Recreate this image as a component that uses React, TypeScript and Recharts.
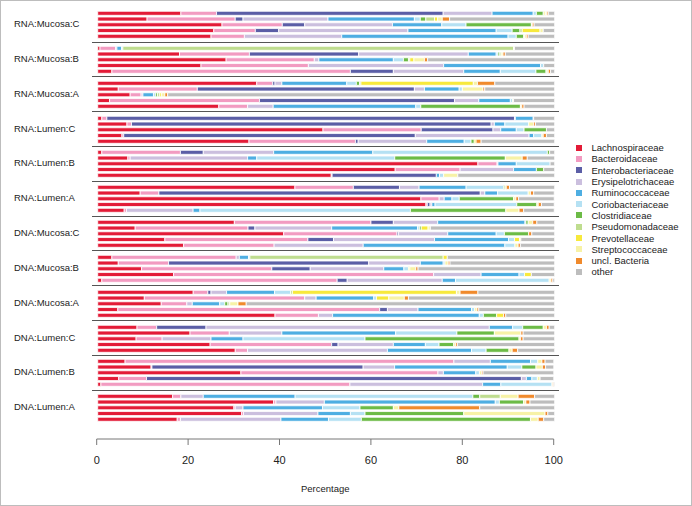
import { BarChart, Bar, XAxis, YAxis } from "recharts";

// family order = stacking order, left to right
const families = [
  "Lachnospiraceae",
  "Bacteroidaceae",
  "Enterobacteriaceae",
  "Erysipelotrichaceae",
  "Ruminococcaceae",
  "Coriobacteriaceae",
  "Clostridiaceae",
  "Pseudomonadaceae",
  "Prevotellaceae",
  "Streptococcaceae",
  "uncl. Bacteria",
  "other",
];

const colors = [
  "#e31b37",
  "#f29bc1",
  "#5b5ea6",
  "#cbbfde",
  "#4eaee2",
  "#b5e1f3",
  "#6cbb46",
  "#bfdd8f",
  "#f7e93c",
  "#f7f2a6",
  "#f08a2c",
  "#bdbdbd",
];

const panelLabels = [
  "RNA:Mucosa:C",
  "RNA:Mucosa:B",
  "RNA:Mucosa:A",
  "RNA:Lumen:C",
  "RNA:Lumen:B",
  "RNA:Lumen:A",
  "DNA:Mucosa:C",
  "DNA:Mucosa:B",
  "DNA:Mucosa:A",
  "DNA:Lumen:C",
  "DNA:Lumen:B",
  "DNA:Lumen:A",
];

// each row: one sample, values in the family order above (percent)
const rnaMucosaC = [
  [18.2, 7.8, 49.6, 10.7, 9.0, 0.7, 1.5, 0.2, 0.3, 0.3, 0.3, 1.4],
  [10.8, 19.3, 1.7, 18.6, 18.9, 1.3, 1.2, 1.9, 0.7, 1.0, 1.6, 23.0],
  [27.2, 13.2, 4.9, 19.2, 10.8, 5.3, 14.3, 0, 0, 0.2, 0.4, 4.5],
  [25.4, 9.1, 5.1, 28.3, 19.3, 3.5, 1.7, 0.5, 3.9, 0.7, 0, 2.5],
  [24.8, 7.3, 0, 21.3, 36.4, 1.8, 1.6, 0.2, 0, 0.4, 0.4, 5.8],
];
const rnaMucosaB = [
  [0.5, 3.4, 0, 0.3, 1.0, 0.3, 0, 85.5, 0, 0.2, 0, 8.8],
  [17.9, 15.3, 23.9, 24.0, 6.1, 0.4, 0.4, 0.3, 0, 0.4, 0.5, 10.8],
  [28.1, 19.3, 0, 1.0, 16.3, 2.2, 1.1, 0.3, 0.9, 2.3, 0.7, 27.8],
  [22.6, 23.5, 0, 29.6, 21.2, 0.7, 0, 0, 0, 0, 0, 2.4],
  [3.1, 52.2, 9.4, 15.4, 8.0, 7.8, 2.2, 0.2, 0, 0.3, 0.5, 0.9],
];
const rnaMucosaA = [
  [34.8, 3.5, 0.5, 1.5, 14.2, 2.1, 0.7, 0.3, 24.6, 0.9, 3.8, 13.1],
  [4.5, 17.3, 47.5, 2.2, 7.6, 0.7, 0, 0, 0, 4.5, 0.4, 15.3],
  [7.1, 2.4, 0, 0.4, 2.3, 0.5, 0.4, 0.5, 0.4, 0.7, 0.6, 84.7],
  [2.6, 32.8, 42.7, 5.3, 6.9, 0.5, 0, 0, 0, 0.2, 0, 9.0],
  [26.5, 6.3, 0, 5.6, 31.2, 1.1, 21.8, 0, 0, 0.3, 0.5, 6.7],
];
const rnaLumenC = [
  [0.9, 1.1, 89.2, 0.2, 3.9, 0.1, 0, 0, 0, 0, 0, 4.6],
  [6.4, 1.0, 78.7, 0.7, 2.3, 5.2, 0, 0, 0, 1.1, 0.4, 4.2],
  [49.3, 21.5, 15.7, 1.7, 3.4, 1.7, 4.9, 0, 0, 0, 0, 1.8],
  [5.3, 0.4, 63.8, 24.9, 1.0, 1.8, 0, 0, 0, 0.3, 0.7, 1.8],
  [33.1, 23.3, 0.6, 15.0, 8.2, 1.5, 0.7, 0, 0.4, 0, 1.1, 16.1],
];
const rnaLumenB = [
  [0.9, 17.2, 5.0, 15.4, 21.7, 38.2, 0.5, 0, 0, 0, 0, 1.1],
  [6.6, 0.5, 0, 25.7, 2.0, 30.2, 24.2, 0, 0, 3.7, 1.1, 6.0],
  [83.2, 4.2, 0, 0.2, 4.0, 7.4, 0, 0, 0, 0, 0, 1.0],
  [65.1, 14.2, 0, 11.7, 5.0, 0, 1.6, 0, 0, 0, 0, 2.4],
  [51.1, 0.2, 22.8, 0, 0.7, 0.9, 0, 0, 0, 3.1, 0, 21.2],
];
const rnaLumenA = [
  [43.2, 12.8, 10.1, 4.3, 10.3, 8.2, 0.3, 0, 0, 0.3, 0.7, 9.9],
  [9.3, 4.1, 70.4, 1.0, 2.8, 6.7, 0, 0, 0, 0.5, 0.7, 4.5],
  [70.8, 4.0, 0, 1.1, 1.7, 1.6, 11.9, 0, 0, 0.5, 0.6, 7.8],
  [71.9, 0.3, 0.6, 0.4, 0.7, 17.9, 4.4, 0, 0, 0.3, 0.7, 2.8],
  [5.8, 0.5, 0, 14.6, 1.5, 46.1, 20.9, 0, 0, 2.9, 1.0, 6.7],
];
const dnaMucosaC = [
  [29.9, 29.9, 4.9, 9.7, 19.1, 0.2, 0.5, 0, 0, 1.0, 0.9, 3.9],
  [8.2, 24.7, 1.5, 16.8, 18.8, 0.4, 0.4, 0, 1.5, 0.5, 0, 27.2],
  [40.7, 24.8, 0.3, 10.8, 10.6, 1.8, 5.3, 0, 0, 0, 0.7, 5.0],
  [14.7, 31.3, 5.6, 22.1, 16.2, 1.3, 0, 0, 1.1, 0.3, 0, 7.4],
  [18.8, 19.8, 0, 19.5, 31.0, 2.2, 0, 0, 0, 0.7, 0.5, 7.5],
];
const dnaMucosaB = [
  [3.1, 27.2, 0, 0.7, 2.0, 0.3, 0, 42.3, 0.9, 0, 0, 23.5],
  [4.5, 11.0, 43.8, 11.3, 5.0, 0.4, 0, 0, 0, 0.7, 0.4, 22.9],
  [9.6, 28.5, 8.4, 16.1, 4.4, 1.0, 0, 0, 0.3, 1.3, 0.5, 29.9],
  [16.6, 56.9, 0, 10.4, 8.3, 1.2, 0, 0, 1.5, 0, 0, 5.1],
  [0.9, 51.5, 2.2, 20.8, 2.9, 20.5, 0, 0, 0, 0.4, 0.4, 0.4],
];
const dnaMucosaA = [
  [20.9, 3.2, 0.7, 3.4, 10.5, 3.5, 0, 0.4, 35.9, 0.8, 3.9, 16.8],
  [10.2, 35.1, 0, 2.5, 12.6, 0.6, 0, 0, 2.7, 3.4, 0.9, 32.0],
  [13.9, 5.6, 0, 1.2, 6.0, 1.1, 0.7, 0.4, 0, 1.8, 1.8, 67.5],
  [4.4, 57.3, 1.7, 6.7, 11.7, 0.7, 0, 0, 0, 0.5, 0.4, 16.6],
  [38.8, 9.5, 0, 3.1, 32.1, 0.9, 2.9, 0, 1.5, 0, 0.5, 10.7],
];
const dnaLumenC = [
  [8.6, 4.3, 10.8, 62.0, 5.1, 2.2, 4.5, 0, 0, 0.7, 0.6, 1.2],
  [20.2, 8.6, 0, 11.5, 24.9, 13.4, 8.2, 0, 0, 5.8, 0.5, 6.9],
  [8.4, 5.7, 0, 10.7, 7.0, 26.7, 33.7, 0, 0, 0.3, 0.6, 6.9],
  [24.6, 26.6, 1.4, 12.1, 7.0, 3.0, 3.2, 0, 0, 0.4, 0.4, 21.3],
  [30.1, 2.7, 0, 30.6, 18.4, 3.2, 5.0, 0, 0, 0.7, 1.2, 8.1],
];
const dnaLumenB = [
  [6.0, 72.1, 0, 8.0, 8.8, 1.6, 0, 0, 0, 0.9, 0.7, 1.9],
  [11.7, 0.2, 46.3, 6.9, 24.7, 3.2, 3.1, 0, 0, 1.4, 0.7, 1.8],
  [31.4, 43.2, 0, 1.2, 7.1, 0.8, 0, 0, 0, 0.5, 0.3, 15.5],
  [4.6, 6.1, 82.2, 1.1, 1.2, 1.2, 0, 0, 0, 0.6, 0, 3.0],
  [0.7, 54.6, 0, 29.1, 4.0, 11.2, 0, 0, 0, 0.2, 0.2, 0.2],
];
const dnaLumenA = [
  [16.4, 1.8, 0, 4.9, 20.1, 38.9, 1.5, 4.5, 0, 3.9, 3.6, 4.4],
  [38.5, 0.5, 0, 10.6, 37.4, 0.9, 5.3, 0, 0, 0.5, 0.9, 5.4],
  [29.8, 0.3, 0, 1.7, 17.4, 8.2, 7.3, 0, 0, 1.2, 17.7, 16.4],
  [31.5, 0.4, 0, 16.3, 7.1, 3.2, 21.6, 0, 0, 17.8, 0.6, 1.5],
  [17.4, 0.7, 0, 22.0, 10.4, 7.2, 37.0, 0, 0, 1.7, 1.2, 2.4],
];

const panels = [
  rnaMucosaC, rnaMucosaB, rnaMucosaA,
  rnaLumenC, rnaLumenB, rnaLumenA,
  dnaMucosaC, dnaMucosaB, dnaMucosaA,
  dnaLumenC, dnaLumenB, dnaLumenA,
];

const xTicks = [0, 20, 40, 60, 80, 100];

const FONT = '"Liberation Sans", Arial, Helvetica, sans-serif';
const PANEL_TOP = 7.17;
const PANEL_H = 34.83;
const PLOT_LEFT = 96.7;
const PLOT_RIGHT = 553.7;
const CHART_W = 560;

// dots in family names would be read as paths, so key by index
const toRows = (rows: number[][]) =>
  rows.map((r, i) => {
    const o: Record<string, number> = { id: i };
    r.forEach((v, j) => (o[`k${j}`] = v));
    return o;
  });

function Panel({ label, rows, top }: { label: string; rows: number[][]; top: number }) {
  return (
    <div style={{ position: "absolute", left: 0, top, width: CHART_W, height: PANEL_H }}>
      <div style={{ position: "absolute", left: 0, top: 0 }}>
        <BarChart
          width={CHART_W}
          height={PANEL_H}
          data={toRows(rows)}
          layout="vertical"
          barSize={4}
          margin={{ top: 3.3, right: CHART_W - PLOT_RIGHT, bottom: 2.8, left: PLOT_LEFT }}
        >
          <XAxis type="number" domain={[0, 100]} hide />
          <YAxis type="category" dataKey="id" hide />
          {families.map((f, j) => (
            <Bar
              key={f}
              name={f}
              dataKey={`k${j}`}
              stackId="s"
              fill={colors[j]}
              stroke="#fff"
              strokeWidth={0.8}
              isAnimationActive={false}
            />
          ))}
        </BarChart>
      </div>
      <div
        style={{
          position: "absolute",
          left: 13,
          top: 0,
          height: PANEL_H,
          lineHeight: `${PANEL_H}px`,
          fontSize: 9.5,
          color: "#222",
        }}
      >
        {label}
      </div>
    </div>
  );
}

// dummy row so the axis has something to scale against
const axisRow = [{ id: 0, v: 0 }];

export default function App() {
  return (
    <div
      style={{
        position: "absolute",
        left: 0,
        top: 0,
        width: 692,
        height: 506,
        boxSizing: "border-box",
        border: "1px solid #bdbdbd",
        background: "#fff",
        fontFamily: FONT,
        overflow: "hidden",
      }}
    >
      {panels.map((rows, i) => (
        <Panel key={panelLabels[i]} label={panelLabels[i]} rows={rows} top={PANEL_TOP + i * PANEL_H - 1} />
      ))}

      {panels.slice(1).map((_, i) => (
        <div
          key={i}
          style={{
            position: "absolute",
            left: 91,
            top: PANEL_TOP + (i + 1) * PANEL_H - 1.5,
            width: 467,
            height: 0,
            borderTop: "1px solid #555",
          }}
        />
      ))}

      {/* shared x axis */}
      <div style={{ position: "absolute", left: -1, top: 399 }}>
        <BarChart
          width={692}
          height={80}
          data={axisRow}
          layout="vertical"
          margin={{ top: 0, right: 692 - PLOT_RIGHT, bottom: 0, left: PLOT_LEFT }}
        >
          <XAxis
            type="number"
            domain={[0, 100]}
            ticks={xTicks}
            interval={0}
            height={41}
            tickSize={6}
            tickMargin={11}
            axisLine={{ stroke: "#777" }}
            tickLine={{ stroke: "#777" }}
            tick={{ fill: "#222", fontSize: 11, fontFamily: FONT }}
          />
          <YAxis type="category" dataKey="id" hide />
          <Bar dataKey="v" fill="none" isAnimationActive={false} />
        </BarChart>
      </div>
      <div
        style={{
          position: "absolute",
          left: PLOT_LEFT - 1,
          width: PLOT_RIGHT - PLOT_LEFT,
          top: 481,
          height: 14,
          lineHeight: "14px",
          textAlign: "center",
          fontSize: 9.5,
          color: "#222",
        }}
      >
        Percentage
      </div>

      {/* legend */}
      <div style={{ position: "absolute", left: 575, top: 141 }}>
        {families.map((f, j) => (
          <div key={f} style={{ display: "flex", alignItems: "center", height: 11.31 }}>
            <span style={{ width: 6, height: 6, background: colors[j], display: "inline-block" }} />
            <span style={{ marginLeft: 9.5, fontSize: 9.5, color: "#222", whiteSpace: "nowrap" }}>{f}</span>
          </div>
        ))}
      </div>
    </div>
  );
}
